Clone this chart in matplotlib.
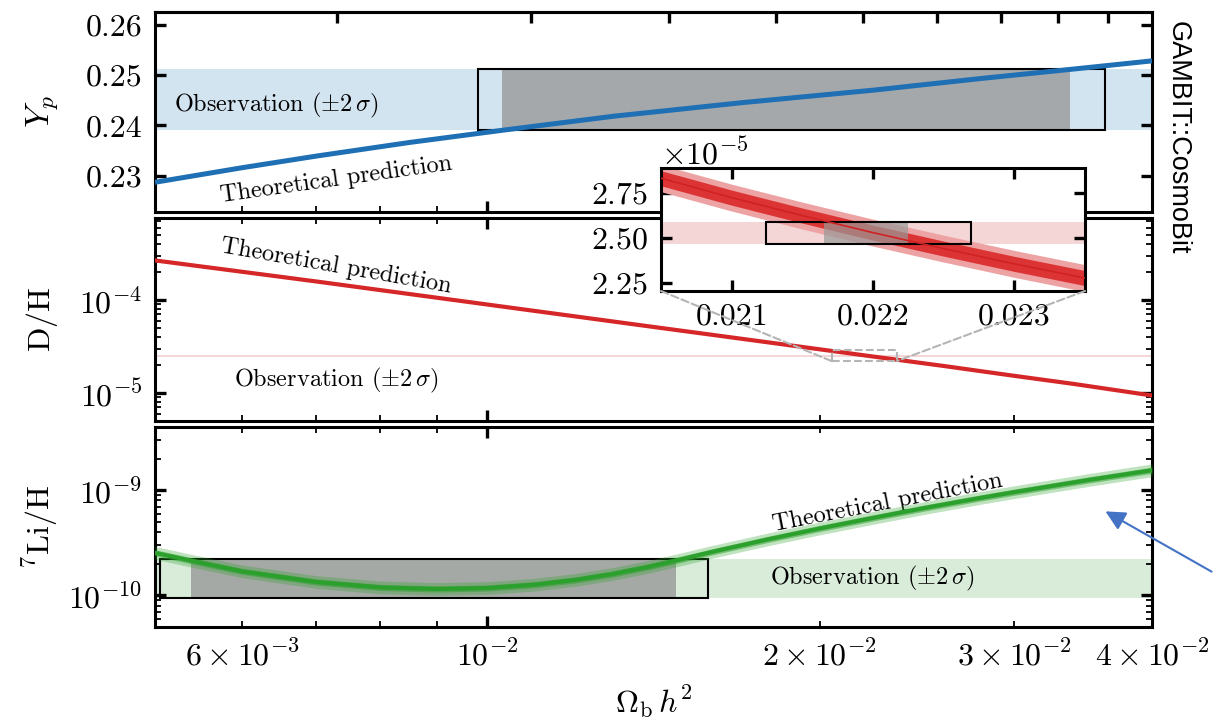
import numpy as np
import matplotlib.pyplot as plt
from matplotlib.patches import Rectangle, ConnectionPatch, FancyArrowPatch
from matplotlib.ticker import NullFormatter, FixedLocator

plt.rcParams.update({
    'font.family': 'serif',
    'font.serif': ['cmr10'],
    'mathtext.fontset': 'cm',
    'axes.formatter.use_mathtext': True,
    'axes.unicode_minus': False,
    'axes.linewidth': 2.2,
})

# helium-4 mass fraction
omb_yp = [0.005, 0.006, 0.007, 0.0085, 0.0103, 0.013, 0.017, 0.0224, 0.028, 0.0337, 0.04]
yp_theory = [0.2287, 0.2316, 0.2339, 0.2366, 0.2390, 0.2418, 0.2445, 0.2470, 0.2493, 0.2511, 0.2528]
yp_obs = (0.2390, 0.2511)
yp_box = (0.00981, 0.03626)
yp_gray = (0.01032, 0.03372)

# deuterium
omb_dh = [0.005, 0.007, 0.01, 0.014, 0.018, 0.022, 0.026, 0.03, 0.034, 0.04]
dh_theory = [2.66e-4, 1.58e-4, 8.93e-5, 5.21e-5, 3.49e-5, 2.53e-5, 1.94e-5, 1.53e-5, 1.25e-5, 9.4e-6]
dh_obs = (2.467e-5, 2.589e-5)

# deuterium zoom
omb_zoom = [0.0205, 0.021, 0.0215, 0.022, 0.0225, 0.023, 0.0235]
dh_zoom = [2.833e-5, 2.725e-5, 2.625e-5, 2.53e-5, 2.441e-5, 2.356e-5, 2.277e-5]
dh_sig1 = 0.042e-5
dh_sig2 = 0.075e-5
dh_box = (0.02124, 0.02269)
dh_gray = (0.02165, 0.02225)
zoom_xlim = (0.0205, 0.0235)
zoom_ylim = (2.205e-5, 2.89e-5)

# lithium-7
omb_li = [0.005, 0.0054, 0.006, 0.007, 0.008, 0.009, 0.010, 0.011, 0.012, 0.013, 0.014, 0.015,
          0.016, 0.018, 0.02, 0.0224, 0.025, 0.028, 0.03, 0.035, 0.04]
li_theory = [2.54e-10, 2.13e-10, 1.69e-10, 1.34e-10, 1.19e-10, 1.15e-10, 1.175e-10, 1.26e-10, 1.40e-10,
             1.60e-10, 1.87e-10, 2.21e-10, 2.60e-10, 3.43e-10, 4.33e-10, 5.48e-10, 6.84e-10, 8.47e-10,
             9.59e-10, 1.25e-9, 1.55e-9]
li_obs = (0.94e-10, 2.2e-10)
li_box = (0.00505, 0.01586)
li_gray = (0.00539, 0.01483)

eta_major = [10]
eta_minor = [2, 3, 4, 5, 6, 7, 8, 9]

xmaj = [0.01]
xmaj_lab = [r'$10^{-2}$']
xmin = [0.005, 0.006, 0.007, 0.008, 0.009, 0.02, 0.03, 0.04]
xmin_lab = ['', r'$6\times10^{-3}$', '', '', '', r'$2\times10^{-2}$', r'$3\times10^{-2}$', r'$4\times10^{-2}$']

c_blue, c_blue_band = '#1f6fb4', '#d3e4f1'
c_red, c_red_band = '#d62728', '#f5d6d7'
c_green, c_green_band = '#2ca02c', '#d8ecd9'
gray = '#999999'
TICK = 23

fig = plt.figure(figsize=(12.14, 7.18), dpi=100)
W, H = 1214, 718


def px_axes(x0, y0, x1, y1, **kw):
    return fig.add_axes([x0 / W, 1 - y1 / H, (x1 - x0) / W, (y1 - y0) / H], **kw)


ax1 = px_axes(155, 12, 1152, 212)
ax2 = px_axes(155, 218, 1152, 421, sharex=ax1)
ax3 = px_axes(155, 427, 1152, 627, sharex=ax1)

for ax in (ax1, ax2, ax3):
    ax.set_xscale('log')
    ax.tick_params(which='both', direction='in', top=True, right=True, labelsize=TICK, pad=9)
    ax.tick_params(which='major', length=8, width=2.4)
    ax.tick_params(which='minor', length=4, width=1.3)
ax1.set_xlim(0.005, 0.04)
ax1.set_xticks(xmaj, xmaj_lab)
ax1.set_xticks(xmin, xmin_lab, minor=True)
for ax in (ax1, ax2):
    ax.tick_params(which='both', labelbottom=False)
ax1.tick_params(which='both', top=False)

# baryon-to-photon ratio along the top edge
sec = ax1.secondary_xaxis('top', functions=(lambda x: 273.9 * x, lambda e: e / 273.9))
sec.xaxis.set_major_locator(FixedLocator(eta_major))
sec.xaxis.set_minor_locator(FixedLocator(eta_minor))
sec.xaxis.set_major_formatter(NullFormatter())
sec.xaxis.set_minor_formatter(NullFormatter())
sec.tick_params(which='both', direction='in', length=8, width=2.4)


def obs_box(ax, box, gray_rng, band):
    ax.add_patch(Rectangle((gray_rng[0], band[0]), gray_rng[1] - gray_rng[0], band[1] - band[0],
                           facecolor=gray, alpha=0.8, edgecolor='none', zorder=2))
    ax.add_patch(Rectangle((box[0], band[0]), box[1] - box[0], band[1] - band[0],
                           facecolor='none', edgecolor='k', lw=1.5, zorder=3))


# Yp panel
ax1.axhspan(*yp_obs, color=c_blue_band, lw=0, zorder=1)
obs_box(ax1, yp_box, yp_gray, yp_obs)
ax1.plot(omb_yp, yp_theory, color=c_blue, lw=3.6, zorder=4, solid_capstyle='butt')
ax1.set_ylim(0.2228, 0.2625)
ax1.set_yticks([0.23, 0.24, 0.25, 0.26], ['0.23', '0.24', '0.25', '0.26'])
ax1.set_ylabel(r'$Y_p$', fontsize=24)
ax1.text(0.0052, 0.2440, r'Observation $(\pm2\,\sigma)$', fontsize=17.5, va='center', ha='left')
ax1.text(0.0073, 0.2292, 'Theoretical prediction', fontsize=17.5, va='center', ha='center', rotation=8)

# D/H panel
ax2.set_yscale('log')
ax2.axhspan(*dh_obs, color=c_red_band, lw=0, zorder=1)
ax2.plot(omb_dh, dh_theory, color=c_red, lw=3, zorder=4)
ax2.set_ylim(5.0e-6, 7.6e-4)
ax2.set_ylabel(r'$\mathrm{D/H}$', fontsize=23)
ax2.text(0.0073, 2.30e-4, 'Theoretical prediction', fontsize=17.5, va='center', ha='center', rotation=-10)
ax2.text(0.0073, 1.38e-5, r'Observation $(\pm2\,\sigma)$', fontsize=17.5, va='center', ha='center')

# zoomed inset
axin = px_axes(661, 168, 1085, 291)
axin.axhspan(*dh_obs, color=c_red_band, lw=0, zorder=1)
dz = np.array(dh_zoom)
axin.fill_between(omb_zoom, dz - dh_sig2, dz + dh_sig2, color='#eda3a3', lw=0, zorder=2)
axin.fill_between(omb_zoom, dz - dh_sig1, dz + dh_sig1, color='#dc3434', lw=0, zorder=2)
axin.add_patch(Rectangle((dh_gray[0], dh_obs[0]), dh_gray[1] - dh_gray[0], dh_obs[1] - dh_obs[0],
                         facecolor=gray, alpha=0.7, edgecolor='none', zorder=3))
axin.add_patch(Rectangle((dh_box[0], dh_obs[0]), dh_box[1] - dh_box[0], dh_obs[1] - dh_obs[0],
                         facecolor='none', edgecolor='k', lw=1.5, zorder=4))
axin.plot(omb_zoom, dh_zoom, color='#d02222', lw=1.2, zorder=5)
axin.set_xlim(*zoom_xlim)
axin.set_ylim(*zoom_ylim)
axin.set_xticks([0.021, 0.022, 0.023], ['0.021', '0.022', '0.023'])
axin.set_yticks([2.25e-5, 2.5e-5, 2.75e-5])
axin.tick_params(direction='in', top=True, right=True, length=8, width=2.4, labelsize=TICK, pad=9)
axin.yaxis.get_offset_text().set_fontsize(TICK)

ax2.add_patch(Rectangle((zoom_xlim[0], zoom_ylim[0]), zoom_xlim[1] - zoom_xlim[0], zoom_ylim[1] - zoom_ylim[0],
                        facecolor='none', edgecolor='#b5b5b5', ls='--', lw=1.5, zorder=5))
for xa, xd in ((0, zoom_xlim[0]), (1, zoom_xlim[1])):
    fig.add_artist(ConnectionPatch((xa, 0), (xd, zoom_ylim[0]), coordsA=axin.transAxes, coordsB=ax2.transData,
                                   color='#b5b5b5', ls='--', lw=1.5))

# Li panel
ax3.set_yscale('log')
ax3.axhspan(*li_obs, color=c_green_band, lw=0, zorder=1)
obs_box(ax3, li_box, li_gray, li_obs)
li = np.array(li_theory)
ax3.fill_between(omb_li, li / 1.15, li * 1.15, color=c_green, alpha=0.3, lw=0, zorder=4)
ax3.fill_between(omb_li, li / 1.07, li * 1.07, color=c_green, alpha=0.5, lw=0, zorder=4)
ax3.plot(omb_li, li_theory, color=c_green, lw=3, zorder=5)
ax3.set_ylim(5e-11, 4e-9)
ax3.set_ylabel(r'$^7\mathrm{Li/H}$', fontsize=23)
ax3.set_xlabel(r'$\Omega_{\rm b}\, h^2$', fontsize=23, labelpad=9)
ax3.text(0.02305, 7.6e-10, 'Theoretical prediction', fontsize=17.5, va='center', ha='center', rotation=11)
ax3.text(0.0223, 1.44e-10, r'Observation $(\pm2\,\sigma)$', fontsize=17.5, va='center', ha='center')

for ax in (ax1, ax2, ax3):
    ax.yaxis.set_label_coords(-0.095, 0.5)

fig.text(1178 / W, 1 - 138 / H, 'GAMBIT::CosmoBit', family='Liberation Sans', fontsize=19.5,
         rotation=-90, ha='center', va='center')

fig.add_artist(FancyArrowPatch((1214 / W, 1 - 573 / H), (1103 / W, 1 - 510 / H), transform=fig.transFigure,
                               arrowstyle='-|>', mutation_scale=30, color='#4472c4', lw=1.5))

fig.savefig('out.png', dpi=100)
